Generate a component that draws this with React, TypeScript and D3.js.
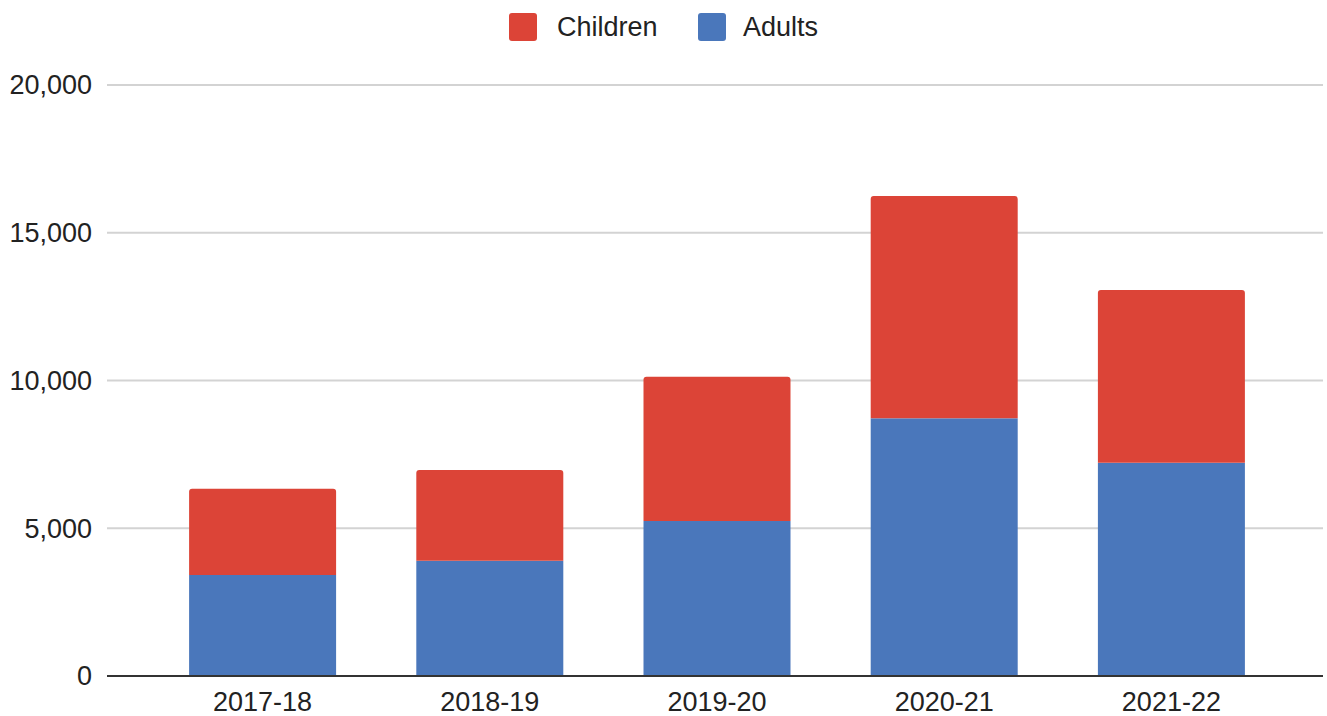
import React from "react";
import * as d3 from "d3";

const categories = ["2017-18", "2018-19", "2019-20", "2020-21", "2021-22"];
const adults = [3420, 3900, 5245, 8720, 7215];
const children = [2920, 3070, 4885, 7525, 5845];
const yTicks = [0, 5000, 10000, 15000, 20000];
const seriesNames = ["Children", "Adults"];
const seriesColors = ["#DC4437", "#4A77BB"];

const W = 1327;
const H = 716;
const FONT = "'Liberation Sans', Arial, sans-serif";

function topRoundedRect(x: number, y: number, w: number, h: number, r: number) {
  const rr = Math.min(r, h / 2, w / 2);
  return `M${x},${y + h}V${y + rr}Q${x},${y} ${x + rr},${y}H${x + w - rr}Q${x + w},${y} ${x + w},${y + rr}V${y + h}Z`;
}

export default function App() {
  const x = d3
    .scaleBand<string>()
    .domain(categories)
    .range([149, 1285])
    .paddingInner(0.353)
    .paddingOuter(0.1765);
  const y = d3.scaleLinear().domain([0, 20000]).range([676, 85]);
  const fmt = d3.format(",");

  const legendItems = [
    { name: seriesNames[0], color: seriesColors[0], sx: 509, tx: 557 },
    { name: seriesNames[1], color: seriesColors[1], sx: 698, tx: 743 },
  ];

  return (
    <div style={{ position: "absolute", left: 0, top: 0 }}>
      <svg width={W} height={H} style={{ display: "block", background: "#fff" }}>
        {yTicks.map((t) =>
          t === 0 ? null : (
            <line key={"g" + t} x1={107} x2={1323} y1={y(t)} y2={y(t)} stroke="#d3d3d3" strokeWidth={2} />
          )
        )}
        {yTicks.map((t) => (
          <text
            key={"t" + t}
            x={92}
            y={y(t)}
            dy="0.35em"
            textAnchor="end"
            fontFamily={FONT}
            fontSize={27}
            fill="#222"
          >
            {fmt(t)}
          </text>
        ))}
        {categories.map((c, i) => {
          const bx = x(c)!;
          const bw = x.bandwidth();
          const a0 = y(0);
          const a1 = y(adults[i]);
          const c1 = y(adults[i] + children[i]);
          return (
            <g key={c}>
              <rect x={bx} y={a1} width={bw} height={a0 - a1} fill={seriesColors[1]} />
              <path d={topRoundedRect(bx, c1, bw, a1 - c1, 3)} fill={seriesColors[0]} />
              <text
                x={bx + bw / 2}
                y={711}
                textAnchor="middle"
                fontFamily={FONT}
                fontSize={27}
                fill="#222"
              >
                {c}
              </text>
            </g>
          );
        })}
        <line x1={107} x2={1323} y1={y(0)} y2={y(0)} stroke="#333" strokeWidth={2} />
        {legendItems.map((l) => (
          <g key={l.name}>
            <rect x={l.sx} y={13} width={28} height={28} rx={3} fill={l.color} />
            <text x={l.tx} y={36} fontFamily={FONT} fontSize={27} fill="#222">
              {l.name}
            </text>
          </g>
        ))}
      </svg>
    </div>
  );
}
